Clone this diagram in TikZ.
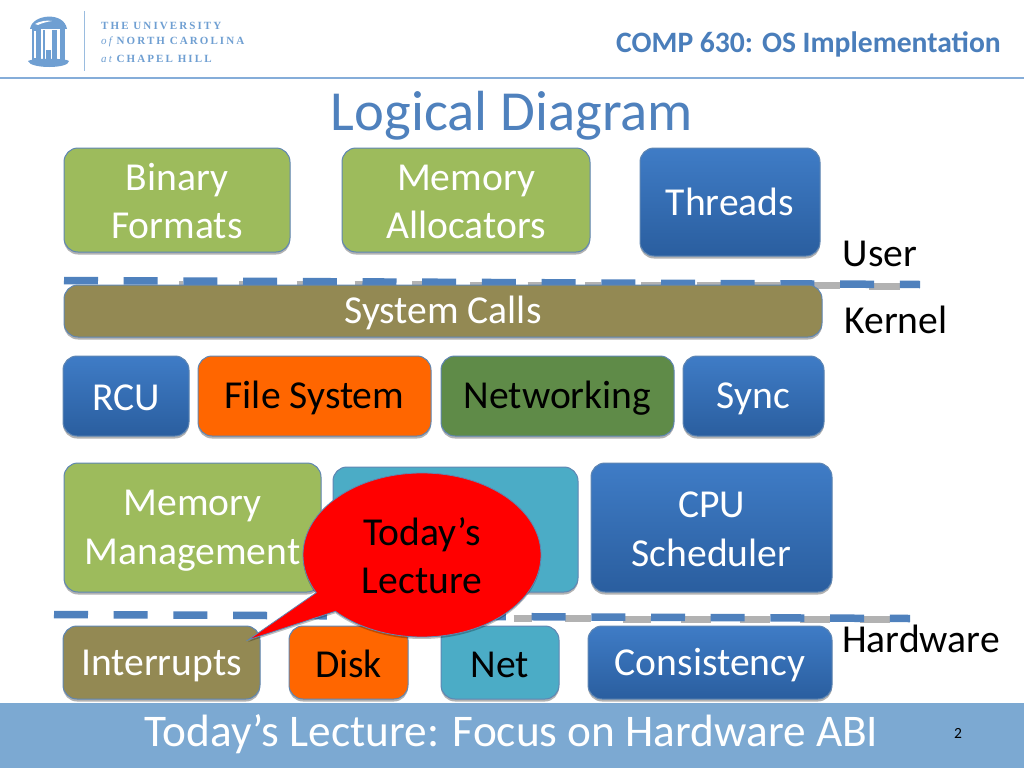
\documentclass[tikz,border=0pt]{standalone}
\usepackage{fontspec}
\setmainfont{Carlito}
\newfontfamily\logofont[LetterSpace=19]{Liberation Serif}
\usetikzlibrary{shadows,shapes.callouts,shapes.geometric}
\definecolor{boxgreen}{HTML}{9DBB5C}
\definecolor{darkgreen}{HTML}{5F8B48}
\definecolor{olive}{HTML}{938953}
\definecolor{teal2}{HTML}{4BACC6}
\definecolor{orange2}{HTML}{FF6600}
\definecolor{edge}{HTML}{5F86B3}
\definecolor{band}{HTML}{7CA9D2}
\definecolor{dashblue}{HTML}{4F81BD}
\definecolor{logoblue}{HTML}{6F9FD2}
\definecolor{titleblue}{HTML}{4F81BD}
\definecolor{headblue}{HTML}{4A7EBB}
\definecolor{blue1}{HTML}{2A5E9F}
\definecolor{blue2}{HTML}{3F7CC6}
% strut that puts the baseline #1 pt below the centre of a node
\newcommand{\ofs}[1]{\rule[\dimexpr#1pt-17pt\relax]{0pt}{34pt}}
\tikzset{
  x=1pt,y=-1pt,
  block/.style={draw=edge,line width=1pt,rounded corners=14pt,inner sep=0pt,align=center,
    font=\fontsize{39.6}{48.3}\selectfont,
    drop shadow={shadow xshift=0pt,shadow yshift=-2.5pt,opacity=.3,fill=black}},
  greenbox/.style={block,fill=boxgreen,text=white},
  bluebox/.style={block,top color=blue2,bottom color=blue1,text=white},
  olivebox/.style={block,fill=olive,text=white},
  orangebox/.style={block,fill=orange2,text=black},
  dgreenbox/.style={block,fill=darkgreen,text=black},
  tealbox/.style={block,fill=teal2,text=black},
  label/.style={anchor=base,font=\fontsize{39.6}{48}\selectfont,text=black,inner sep=0pt},
  dashline/.style={draw=dashblue,line width=7.5pt,dash pattern=on 34pt off 25.7pt},
  grayseg/.style={draw=black!30,line width=7pt},
  logotext/.style={anchor=west,inner sep=0pt,text=logoblue,font=\logofont\bfseries\fontsize{11}{12}\selectfont},
}
\newcommand{\boxat}[6]{\node[#1,minimum width=#4pt,minimum height=#5pt] (#2) at (#3) {#6};}
\begin{document}
\begin{tikzpicture}
\useasboundingbox (0,0) rectangle (1024,768);
\fill[white] (0,0) rectangle (1024,768);
% header
\draw[draw=logoblue!85,line width=1.2pt] (0,78) -- (1024,78);
\draw[draw=logoblue!70,line width=1pt] (84,11) -- (84,71);
\fill[logoblue] (30,29) .. controls (32,14) and (64,11) .. (67,29) -- cycle;
\fill[white] (35,24) .. controls (40,21) and (47,20) .. (52,21) .. controls (46,22) and (42,23) .. (38,25) -- cycle;
\fill[logoblue] (32,29) rectangle (41,60);
\fill[logoblue] (43,30) rectangle (45,59);
\fill[logoblue] (52,30) rectangle (57,60);
\fill[logoblue] (60,29) rectangle (65,60);
\fill[logoblue] (46,50) rectangle (51,59);
\fill[white] (34,31) rectangle (36,58);
\fill[logoblue] (28,61) .. controls (32,58) and (66,58) .. (69,61) .. controls (69,69) and (30,69) .. (28,61) -- cycle;
\node[logotext] (logoa) at (101,25.5) {THE UNIVERSITY};
\node[logotext] (logob) at (101,42) {{\itshape\mdseries of} NORTH CAROLINA};
\node[logotext] (logoc) at (101,58.5) {{\itshape\mdseries at} CHAPEL HILL};
\node[anchor=base east,inner sep=0pt,text=headblue,font=\bfseries\fontsize{29.6}{34}\selectfont] (course) at (1001,52.7) {COMP 630: OS Implementation};
\node[anchor=base,inner sep=0pt,text=titleblue,font=\fontsize{56.6}{60}\selectfont] (title) at (512,130) {Logical Diagram};
% dashed lines: faint grey shadow segments in the gaps
\foreach \i/\l in {2/4,3/4,4/6,5/8,6/10,7/12,8/14,9/16,10/20,11/24,12/28,13/31,14/31} {
  \draw[grayseg] ({64+59.7*\i-\l},{284+\i*0.15}) -- ({64+59.7*\i},{284+\i*0.15});
}
\foreach \i/\l in {8/18,9/26,10/28,11/30,12/30,13/30,14/30} {
  \draw[grayseg] ({54+59.7*\i-\l},{618+\i*0.1}) -- ({54+59.7*\i},{618+\i*0.1});
}
\coordinate (d1a) at (64,280.5);
\coordinate (d1b) at (920,284.5);
\coordinate (d2a) at (54,614.5);
\coordinate (d2b) at (910,618.5);
\draw[dashline] (d1a) -- (d1b);
\draw[dashline] (d2a) -- (d2b);
% blocks
\boxat{greenbox}{binary}{177,200}{226}{104}{\ofs{14.3}Binary\\\ofs{14.3}Formats}
\boxat{greenbox}{alloc}{466,200}{248}{104}{\ofs{14.3}Memory\\\ofs{14.3}Allocators}
\boxat{bluebox}{threads}{730,202}{180}{108}{\ofs{13.3}Threads}
\boxat{olivebox}{syscalls}{443,311}{758}{52}{\ofs{13.5}System Calls}
\boxat{bluebox}{rcu}{126,396}{126}{80}{\ofs{14.5}RCU}
\boxat{orangebox}{fs}{314.5,396}{233}{80}{\ofs{14.5}File System}
\boxat{dgreenbox}{net}{557.5,396}{233}{80}{\ofs{14.5}Networking}
\boxat{bluebox}{sync}{753.5,396}{141}{80}{\ofs{14.5}Sync}
\boxat{greenbox}{mm}{192.5,527.5}{257}{129}{\ofs{15}Memory\\\ofs{15}Management}
\boxat{tealbox}{drivers}{455.5,529.5}{245}{125}{}
\boxat{bluebox}{cpu}{711.5,527.5}{241}{129}{\ofs{14.5}CPU\\\ofs{14.5}Scheduler}
\boxat{olivebox}{irq}{161.5,662.5}{197}{73}{\ofs{14.5}Interrupts}
\boxat{orangebox}{disk}{348.5,662.5}{119}{73}{\ofs{14.5}Disk}
\boxat{tealbox}{nic}{500,662.5}{118}{73}{\ofs{14.5}Net}
\boxat{bluebox}{cons}{710,662.5}{244}{73}{\ofs{14.5}Consistency}
% side labels
\node[label] (user) at (880,266) {User};
\node[label] (kernel) at (896,333.7) {Kernel};
\node[label] (hw) at (921,652.7) {Hardware};
% bottom band
\fill[band] (0,703) rectangle (1024,768);
\node[anchor=base,inner sep=0pt,text=white,font=\fontsize{45.3}{48}\selectfont] (foot) at (511.5,746) {Today’s Lecture: Focus on Hardware ABI};
\node[anchor=base,inner sep=0pt,text=black,font=\fontsize{15.5}{16}\selectfont] (page) at (958,738) {2};
% callout
\coordinate (tip) at (248,640);
\node[ellipse callout,callout absolute pointer={(tip)},callout pointer arc=16,
  fill=red,draw=edge,line width=.8pt,minimum width=238pt,minimum height=164pt,inner sep=0pt,align=center,
  font=\fontsize{39.6}{48.3}\selectfont,text=black,
  drop shadow={shadow xshift=0pt,shadow yshift=-2pt,opacity=.25,fill=black}] (bubble) at (422,555) {\ofs{14.5}Today’s\\\ofs{14.5}Lecture};
\end{tikzpicture}
\end{document}
